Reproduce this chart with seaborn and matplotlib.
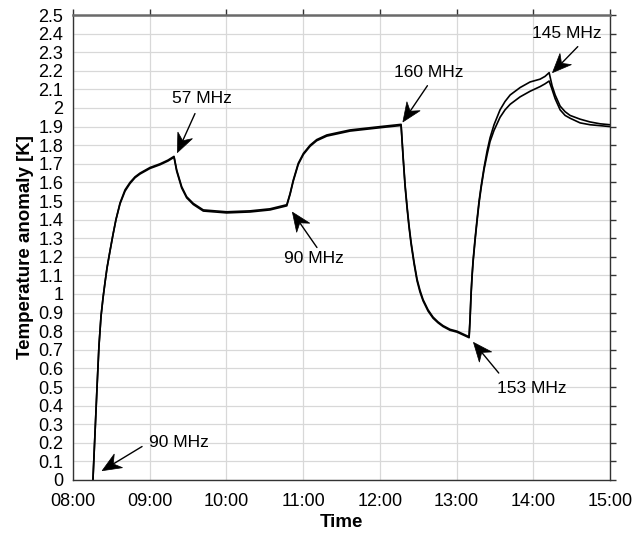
import matplotlib
matplotlib.use("Agg")
import matplotlib.pyplot as plt
from matplotlib.patches import Polygon
import seaborn as sns
import pandas as pd
import numpy as np

# time in minutes after 08:00
minutes = [15.6, 17.2, 18.8, 20.3, 21.9, 23.5, 25.0, 26.6, 28.9, 31.3, 33.6, 36.8, 40.7, 44.6, 48.5, 52.4, 60.2, 68.1, 74.3, 79.0,
           81.1, 85.0, 88.9, 94.1, 101.9, 120.2, 138.5, 154.1, 167.2,
           169.8, 172.3, 176.2, 180.2, 185.4, 190.6, 198.5, 216.7, 240.2, 256.6,
           258.2, 259.7, 261.3, 262.8, 264.4, 266.8, 269.1, 271.4, 273.8, 277.7, 281.6, 285.5, 289.4, 294.9, 300.4, 305.1, 309.8,
           310.6, 311.3, 312.1, 312.9, 314.5, 316.0, 317.6, 319.2, 321.5, 323.9, 326.2, 329.3, 334.0, 337.9, 341.9, 349.7, 357.5, 365.3, 369.2, 372.4,
           374.7, 377.1, 381.0, 384.9, 388.8, 396.6, 404.4, 412.3, 420.0]
sensor_a = [0.00, 0.25, 0.50, 0.72, 0.88, 0.98, 1.06, 1.14, 1.23, 1.32, 1.40, 1.49, 1.56, 1.60, 1.63, 1.65, 1.68, 1.70, 1.72, 1.740,
            1.667, 1.577, 1.523, 1.487, 1.452, 1.442, 1.447, 1.458, 1.480,
            1.541, 1.613, 1.703, 1.756, 1.800, 1.830, 1.855, 1.882, 1.900, 1.912,
            1.74, 1.59, 1.47, 1.37, 1.28, 1.17, 1.08, 1.02, 0.97, 0.915, 0.876, 0.85, 0.83, 0.81, 0.80, 0.785, 0.770,
            0.88, 1.00, 1.10, 1.18, 1.30, 1.40, 1.50, 1.58, 1.68, 1.77, 1.84, 1.91, 1.99, 2.035, 2.07, 2.11, 2.14, 2.155, 2.17, 2.190,
            2.12, 2.07, 2.01, 1.98, 1.96, 1.94, 1.925, 1.915, 1.910]
sensor_b = [0.00, 0.25, 0.50, 0.72, 0.88, 0.98, 1.06, 1.14, 1.23, 1.32, 1.40, 1.485, 1.553, 1.594, 1.625, 1.645, 1.675, 1.695, 1.715, 1.735,
            1.660, 1.570, 1.517, 1.481, 1.446, 1.436, 1.441, 1.452, 1.474,
            1.536, 1.607, 1.697, 1.750, 1.794, 1.824, 1.849, 1.876, 1.894, 1.906,
            1.73, 1.58, 1.46, 1.36, 1.27, 1.16, 1.07, 1.01, 0.963, 0.908, 0.870, 0.845, 0.825, 0.805, 0.795, 0.78, 0.765,
            0.87, 0.99, 1.09, 1.17, 1.29, 1.39, 1.49, 1.57, 1.67, 1.75, 1.82, 1.88, 1.95, 1.99, 2.02, 2.06, 2.09, 2.115, 2.13, 2.145,
            2.10, 2.05, 1.99, 1.96, 1.945, 1.92, 1.91, 1.905, 1.900]

hour_ticks = [0, 1, 2, 3, 4, 5, 6, 7]
hour_labels = ["08:00", "09:00", "10:00", "11:00", "12:00", "13:00", "14:00", "15:00"]
y_ticks = [round(i * 0.1, 1) for i in range(26)]

# annotations: label, text position (h, K), arrow tail (h, K), arrow tip (h, K)
ann_labels = ["90 MHz", "57 MHz", "90 MHz", "160 MHz", "153 MHz", "145 MHz"]
ann_text = [(1.38, 0.20), (1.68, 2.05), (3.14, 1.19), (4.64, 2.19), (5.98, 0.49), (6.44, 2.40)]
ann_tail = [(0.90, 0.18), (1.59, 1.97), (3.18, 1.25), (4.62, 2.12), (5.55, 0.575), (6.58, 2.33)]
ann_tip = [(0.38, 0.05), (1.36, 1.76), (2.86, 1.44), (4.30, 1.925), (5.22, 0.74), (6.25, 2.19)]

df = pd.DataFrame({
    "hours": [m / 60 for m in minutes] * 2,
    "value": sensor_a + sensor_b,
    "sensor": ["A"] * len(minutes) + ["B"] * len(minutes),
})

sns.set_style("white")
plt.rcParams["font.family"] = ["Liberation Sans", "DejaVu Sans"]
plt.rcParams["text.color"] = "black"
plt.rcParams["axes.labelcolor"] = "black"
plt.rcParams["xtick.color"] = "black"
plt.rcParams["ytick.color"] = "black"

fig = plt.figure(figsize=(6.43, 5.34), dpi=100)
ax = fig.add_axes([73 / 643, 54 / 534, 537 / 643, 465 / 534])

sns.lineplot(data=df, x="hours", y="value", hue="sensor", palette=["black", "black"],
             linewidth=1.2, legend=False, ax=ax, sort=False, estimator=None)

ax.set_xlim(0, 7)
ax.set_ylim(0, 2.5)
ax.set_xticks(hour_ticks)
ax.set_xticklabels(hour_labels)
ax.set_yticks(y_ticks)
ax.set_yticklabels([f"{v:g}" for v in y_ticks])
ax.grid(True, color="#d8d8d8", linewidth=0.9)
ax.set_axisbelow(True)

for s in ["left", "bottom", "right"]:
    ax.spines[s].set_color("#333333")
    ax.spines[s].set_linewidth(1.0)
ax.spines["top"].set_color("#6a6a6a")
ax.spines["top"].set_linewidth(1.8)

ax.tick_params(axis="both", which="both", direction="out", length=4, width=1,
               color="#333333", labelsize=13, top=True, right=True,
               labeltop=False, labelright=False, pad=3)
ax.tick_params(axis="x", pad=5)

ax.set_xlabel("Time", fontsize=13.5, fontweight="bold", labelpad=3)
ax.set_ylabel("Temperature anomaly [K]", fontsize=13.5, fontweight="bold", labelpad=3)

fig.canvas.draw()
to_disp = ax.transData
to_data = ax.transData.inverted()
L, W, N = 19.0, 8.0, 6.0
for lab, tp, tl, tip in zip(ann_labels, ann_text, ann_tail, ann_tip):
    ax.text(tp[0], tp[1], lab, fontsize=12.5, ha="center", va="center")
    p_tip = np.array(to_disp.transform(tip))
    p_tail = np.array(to_disp.transform(tl))
    u = (p_tip - p_tail) / np.linalg.norm(p_tip - p_tail)
    n = np.array([-u[1], u[0]])
    head = [p_tip, p_tip - L * u + W * n, p_tip - (L - N) * u, p_tip - L * u - W * n]
    head_d = to_data.transform(np.array(head))
    ax.add_patch(Polygon(head_d, closed=True, facecolor="black", edgecolor="black", lw=0.5))
    shaft_end = to_data.transform(p_tip - (L - N) * u)
    ax.plot([tl[0], shaft_end[0]], [tl[1], shaft_end[1]], color="black", lw=1.0)

ax.set_xlim(0, 7)
ax.set_ylim(0, 2.5)
fig.savefig("out.png", dpi=100)
